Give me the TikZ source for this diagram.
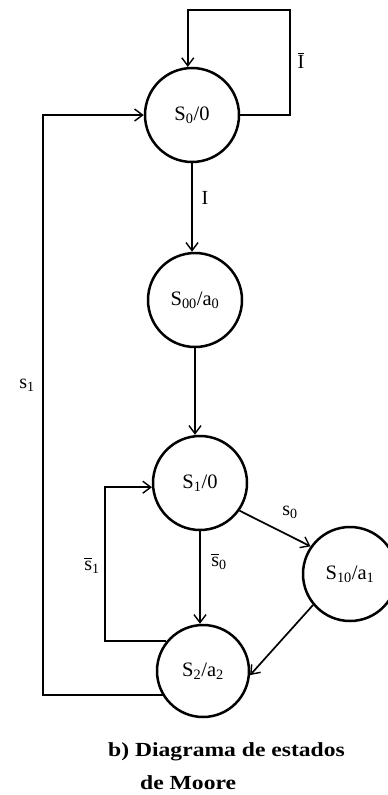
\documentclass[tikz,border=0pt]{standalone}
\usepackage{fontspec}
\setmainfont{Liberation Serif}
\newfontfamily\capfont[FakeStretch=1.18]{Liberation Serif}
\usetikzlibrary{arrows.meta}
\newcommand{\ovl}[1]{\vbox{\hrule height 1.1pt\kern1.8pt\hbox{#1}}}
\begin{document}
\begin{tikzpicture}[x=1pt,y=-1pt,
  state/.style={circle,draw,line width=2.5pt,minimum size=94pt,inner sep=0pt,font=\fontsize{20.5}{22}\selectfont},
  arr/.style={line width=1.7pt,-{Straight Barb[length=8pt,width=12pt,line width=1.4pt]}},
  lbl/.style={font=\fontsize{20}{22}\selectfont,inner sep=0pt},
  captext/.style={font=\capfont\fontsize{20}{22}\selectfont\bfseries,inner sep=0pt,anchor=west}]
\useasboundingbox (0,0) rectangle (388,795);
\clip (0,0) rectangle (388,795);
\node[state] (S0) at (192,115) {S\textsubscript{0}/0};
\node[state] (S00) at (195,300) {S\textsubscript{00}/a\textsubscript{0}};
\node[state] (S1) at (200,483) {S\textsubscript{1}/0};
\node[state] (S10) at (350,574) {S\textsubscript{10}/a\textsubscript{1}};
\node[state,minimum size=92pt] (S2) at (203,671) {S\textsubscript{2}/a\textsubscript{2}};
\coordinate (T1) at (290,10);
\coordinate (L1) at (105,600);
\coordinate (L2) at (43,400);
\draw[arr] (S0.east) -| (T1) -| (S0.95);
\draw[arr] (S0.south) -- (S0.south |- S00.north);
\draw[arr] (S00.south) -- (S00.south |- S1.north);
\draw[arr] (S1.-35) -- (S10.145);
\draw[arr] (S1.south) -- (S1.south |- S2.north);
\draw[arr] (S10.220) -- (S2.-5);
\draw[arr] (S2.141) -| (L1) |- (S1.185);
\draw[arr] (S2.211) -| (L2) |- (S0.west);
\node[lbl] (lI) at (301,61) {\ovl{I}};
\node[lbl] (lI2) at (205,198) {I};
\node[lbl] (ls1) at (27,385) {s\textsubscript{1}};
\node[lbl] (ls0) at (290,512) {s\textsubscript{0}};
\node[lbl] (lns0) at (219,562) {\ovl{s}\textsubscript{0}};
\node[lbl] (lns1) at (92,566) {\ovl{s}\textsubscript{1}};
\node[captext] (c1) at (108,752) {b) Diagrama de estados};
\node[captext] (c2) at (140,783) {de Moore};
\end{tikzpicture}
\end{document}
